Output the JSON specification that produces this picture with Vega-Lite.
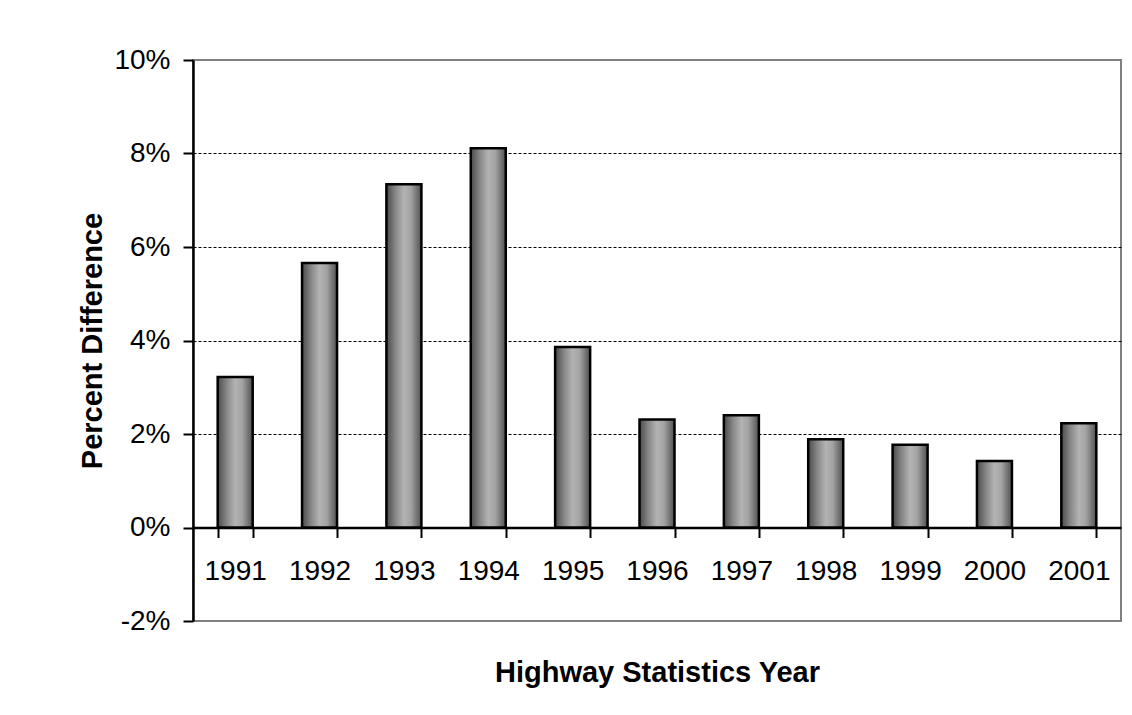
{
  "$schema": "https://vega.github.io/schema/vega-lite/v6.json",
  "autosize": {"type": "none"},
  "padding": {"left": 193, "top": 60, "right": 11, "bottom": 94},
  "width": 928,
  "height": 561,
  "background": "white",
  "config": {
    "font": "Liberation Sans",
    "view": {"stroke": "#808080", "strokeWidth": 2}
  },
  "data": {
    "values": [
      {"year": "1991", "pct": 3.22},
      {"year": "1992", "pct": 5.66},
      {"year": "1993", "pct": 7.34},
      {"year": "1994", "pct": 8.11},
      {"year": "1995", "pct": 3.86},
      {"year": "1996", "pct": 2.31},
      {"year": "1997", "pct": 2.40},
      {"year": "1998", "pct": 1.89},
      {"year": "1999", "pct": 1.77},
      {"year": "2000", "pct": 1.42},
      {"year": "2001", "pct": 2.23}
    ]
  },
  "mark": {
    "type": "bar",
    "stroke": "black",
    "strokeWidth": 2.5,
    "color": {
      "gradient": "linear",
      "x1": 0, "y1": 0, "x2": 1, "y2": 0,
      "stops": [
        {"offset": 0, "color": "#4a4a4a"},
        {"offset": 0.25, "color": "#858585"},
        {"offset": 0.5, "color": "#b3b3b3"},
        {"offset": 0.7, "color": "#a3a3a3"},
        {"offset": 1, "color": "#505050"}
      ]
    }
  },
  "encoding": {
    "x": {
      "field": "year",
      "type": "nominal",
      "sort": null,
      "scale": {"paddingInner": 0.585, "paddingOuter": 0.2925},
      "axis": {
        "title": "Highway Statistics Year",
        "titleFont": "Liberation Sans",
        "titleFontSize": 29,
        "titleFontWeight": "bold",
        "titleColor": "black",
        "titlePadding": 73,
        "offset": -93.5,
        "labelAngle": 0,
        "labelFontSize": 28,
        "labelColor": "black",
        "labelPadding": 20,
        "tickBand": "extent",
        "tickSize": 10,
        "tickWidth": 2,
        "tickColor": "black",
        "domainColor": "black",
        "domainWidth": 2.5,
        "grid": false
      }
    },
    "y": {
      "field": "pct",
      "type": "quantitative",
      "scale": {"domain": [-2, 10], "nice": false, "zero": false},
      "axis": {
        "title": "Percent Difference",
        "titleFont": "Liberation Sans",
        "titleFontSize": 29,
        "titleFontWeight": "bold",
        "titleColor": "black",
        "titlePadding": 6,
        "values": [-2, 0, 2, 4, 6, 8, 10],
        "labelExpr": "datum.value + '%'",
        "labelFontSize": 28,
        "labelColor": "black",
        "labelPadding": 13,
        "tickSize": 10,
        "tickWidth": 2,
        "tickColor": "black",
        "domainColor": "black",
        "domainWidth": 2.5,
        "grid": true,
        "gridColor": "black",
        "gridWidth": 1,
        "gridDash": [3, 2],
        "gridOpacity": {"condition": {"test": "datum.value > 0 && datum.value < 10", "value": 1}, "value": 0}
      }
    }
  }
}
